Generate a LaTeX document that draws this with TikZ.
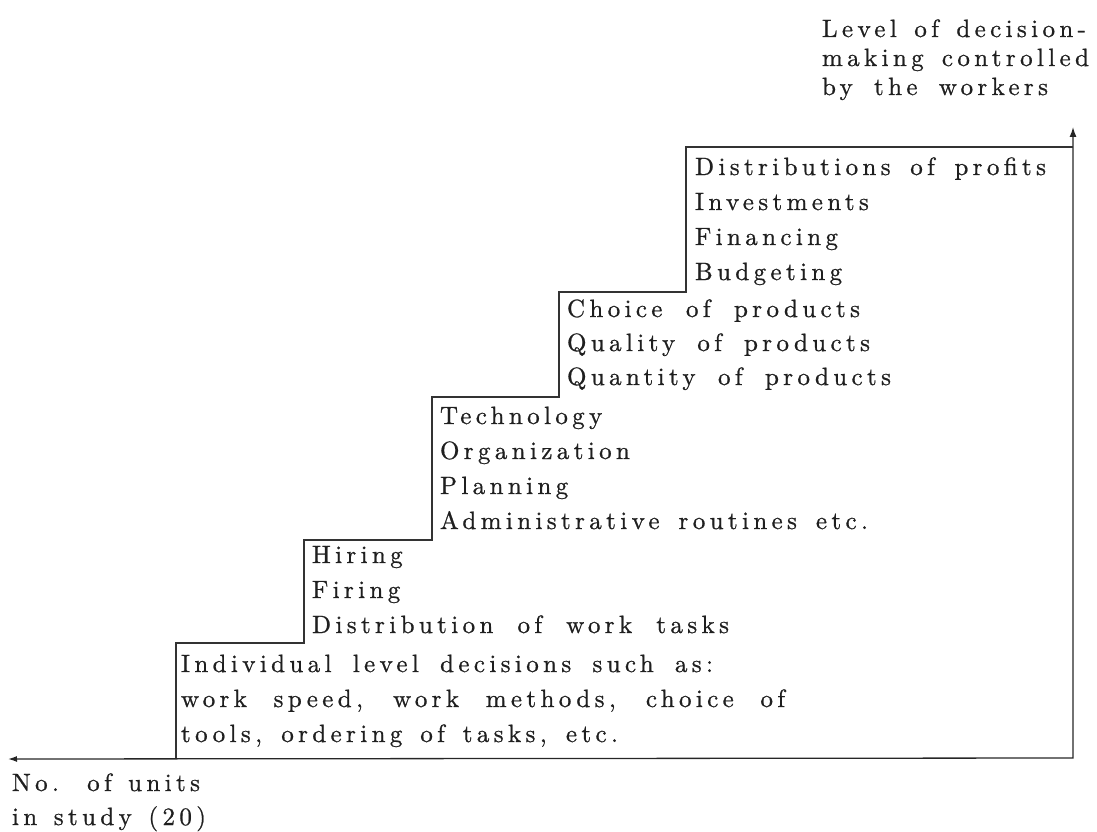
\documentclass[tikz,border=0pt]{standalone}
\usepackage{fontspec}
\usetikzlibrary{arrows.meta}
% widely spaced roman, set like a typewritten figure
\newfontfamily\stairfamily{lmroman10-regular}[Extension=.otf, LetterSpace=17.5, FakeBold=0.8]
\newcommand\stairfont{\stairfamily\fontsize{25}{28}\selectfont}
% a line of several words, spread to a given width
\newcommand\spreadline[2]{\makebox[#1pt][s]{#2}}
\begin{document}
\begin{tikzpicture}[x=1pt,y=-1pt,
  axis/.style={line width=1.3pt, draw=black!85},
  stair/.style={line width=1.2pt, draw=black!80},
  txt/.style={anchor=base west, inner sep=0pt, outer sep=0pt, text=black!88, font=\stairfont}]
\useasboundingbox (0,0) rectangle (1097,832);

% axes
\coordinate (origin) at (1073,758);
\coordinate (xend) at (8,759);
\coordinate (yend) at (1073,127);
\draw[axis, {Latex[length=9pt,width=6pt]}-{Latex[length=10pt,width=7pt]}] (xend) -- (origin) -- (yend);

% staircase
\coordinate (top) at (1073,147);
\coordinate (s5a) at (686,147);  \coordinate (s5b) at (686,292);
\coordinate (s4a) at (559,292);  \coordinate (s4b) at (559,397);
\coordinate (s3a) at (432,397);  \coordinate (s3b) at (432,540);
\coordinate (s2a) at (304,540);  \coordinate (s2b) at (304,643);
\coordinate (s1a) at (176,643);  \coordinate (s1b) at (176,758);
\draw[stair] (top) -- (s5a) -- (s5b) -- (s4a) -- (s4b) -- (s3a) -- (s3b)
  -- (s2a) -- (s2b) -- (s1a) -- (s1b);

% axis labels
\node[txt] (ya1) at (822,37) {\spreadline{264}{Level of decision-}};
\node[txt] (ya2) at (822,66) {\spreadline{267}{making controlled}};
\node[txt] (ya3) at (822,95) {\spreadline{226}{by the workers}};
\node[txt] (xa1) at (12,791) {\spreadline{188}{No. of units}};
\node[txt] (xa2) at (12,825) {\spreadline{194}{in study (20)}};

% step 5
\node[txt] (t51) at (695,175) {\spreadline{351}{Distributions of profits}};
\node[txt] (t52) at (695,210) {Investments};
\node[txt] (t53) at (695,245) {Financing};
\node[txt] (t54) at (695,280) {Budgeting};
% step 4
\node[txt] (t41) at (567,317) {\spreadline{293}{Choice of products}};
\node[txt] (t42) at (567,351) {\spreadline{303}{Quality of products}};
\node[txt] (t43) at (567,385) {\spreadline{324}{Quantity of products}};
% step 3
\node[txt] (t31) at (440,424) {Technology};
\node[txt] (t32) at (440,459) {Organization};
\node[txt] (t33) at (440,494) {Planning};
\node[txt] (t34) at (440,529) {\spreadline{428}{Administrative routines etc.}};
% step 2
\node[txt] (t21) at (312,563) {Hiring};
\node[txt] (t22) at (312,598) {Firing};
\node[txt] (t23) at (312,633) {\spreadline{417}{Distribution of work tasks}};
% step 1
\node[txt] (t11) at (181,672) {\spreadline{532}{Individual level decisions such as:}};
\node[txt] (t12) at (181,707) {\spreadline{604}{work speed, work methods, choice of}};
\node[txt] (t13) at (181,742) {\spreadline{437}{tools, ordering of tasks, etc.}};
\end{tikzpicture}
\end{document}
